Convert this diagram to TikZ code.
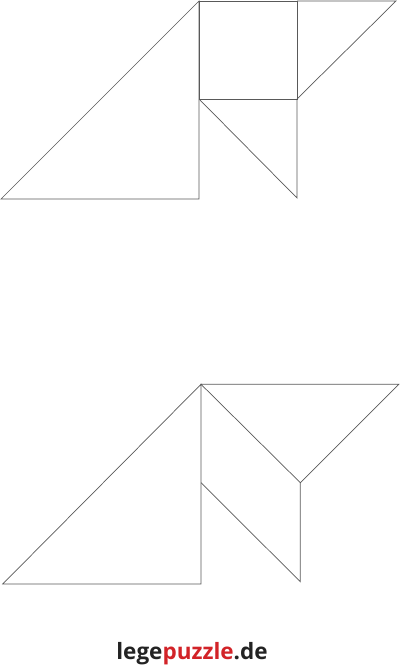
\documentclass[tikz,border=0pt]{standalone}
\usepackage{fontspec}
\newfontfamily\logofont{Open Sans}
\definecolor{linecol}{gray}{0.35}
\definecolor{logored}{RGB}{210,35,40}
\definecolor{logodark}{RGB}{35,35,35}
\begin{document}
\begin{tikzpicture}[x=1bp,y=-1bp,piece/.style={draw=linecol,line width=0.7bp,line join=miter}]
\useasboundingbox (0,0) rectangle (400,672);
% top figure
\coordinate (a1) at (1,199);
\coordinate (a2) at (199,1);
\coordinate (a3) at (199,199);
\coordinate (a4) at (297,1);
\coordinate (a5) at (297,99);
\coordinate (a6) at (199,99);
\coordinate (a7) at (396,1);
\coordinate (a8) at (297,198);
\draw[piece] (a1) -- (a2) -- (a3) -- cycle;
\draw[piece] (a2) -- (a4) -- (a5) -- (a6) -- cycle;
\draw[piece] (a4) -- (a7) -- (a5);
\draw[piece] (a6) -- (a8) -- (a5);
% bottom figure
\coordinate (b1) at (2.7,584);
\coordinate (b2) at (201,384.3);
\coordinate (b3) at (201,584);
\coordinate (b4) at (398.7,384.3);
\coordinate (b5) at (300.3,482.7);
\coordinate (b6) at (300.3,581.7);
\coordinate (b7) at (201,482.7);
\draw[piece] (b1) -- (b2) -- (b3) -- cycle;
\draw[piece] (b2) -- (b4) -- (b5) -- cycle;
\draw[piece] (b5) -- (b6) -- (b7);
% logo
\node[anchor=base,inner sep=0pt,font=\logofont\bfseries\fontsize{22.5bp}{26bp}\selectfont] (logo) at (192,659) {\textcolor{logodark}{lege}\textcolor{logored}{puzzle}\textcolor{logodark}{.de}};
\end{tikzpicture}
\end{document}
